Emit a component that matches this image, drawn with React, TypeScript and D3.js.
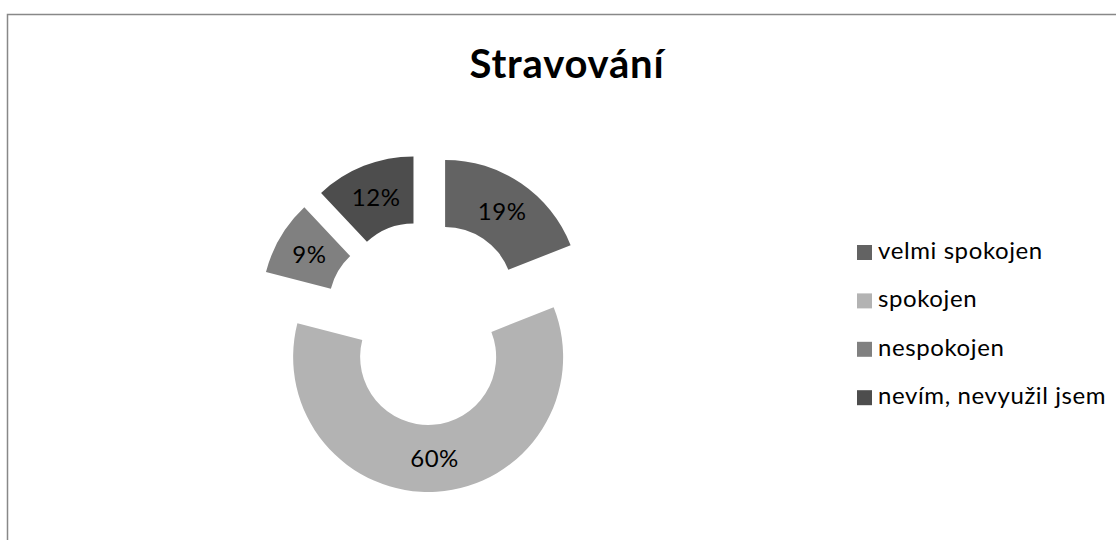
import React from 'react';
import * as d3 from 'd3';

// chart data
const title = 'Stravování';
const categories = ['velmi spokojen', 'spokojen', 'nespokojen', 'nevím, nevyužil jsem'];
const shares = [19, 60, 9, 12];
const colors = ['#636363', '#b3b3b3', '#808080', '#4d4d4d'];

const W = 1116;
const H = 540;

const App = () => {
  // doughnut layout
  const cx = 426;
  const cy = 323;
  const outerR = 135;
  const innerR = 68;
  const explode = 34;

  const pie = d3.pie<number>().sort(null).value(d => d);
  const arcs = pie(shares);
  const arc = d3.arc<d3.PieArcDatum<number>>().innerRadius(innerR).outerRadius(outerR);

  const font = 'Lato, "Open Sans", sans-serif';

  return (
    <div style={{ position: 'absolute', left: 0, top: 0 }}>
      <svg width={W} height={H} style={{ display: 'block', background: '#fff' }}>
        {/* chart frame, runs off the right and bottom of the picture */}
        <rect x={7.5} y={14.5} width={W + 20} height={H + 20} fill="#fff" stroke="#888" strokeWidth={1.5} />

        <text x={567} y={78} textAnchor="middle" fontFamily={font} fontWeight="bold" fontSize={40} letterSpacing={0.8} fill="#000">
          {title}
        </text>

        <g transform={`translate(${cx},${cy})`}>
          {arcs.map((a, i) => {
            const mid = (a.startAngle + a.endAngle) / 2;
            const dx = explode * Math.sin(mid);
            const dy = -explode * Math.cos(mid);
            const [lx, ly] = arc.centroid(a);
            return (
              <g key={categories[i]} transform={`translate(${dx},${dy})`}>
                <path d={arc(a) || ''} fill={colors[i]} />
                <text x={lx} y={ly} dy="0.36em" textAnchor="middle" fontFamily={font} fontSize={24} letterSpacing={0.5} fill="#000">
                  {shares[i]}%
                </text>
              </g>
            );
          })}
        </g>

        <g transform="translate(857,245)">
          {categories.map((c, i) => (
            <g key={c} transform={`translate(0,${i * 48.4})`}>
              <rect width={15} height={15} fill={colors[i]} />
              <text x={21} y={14} fontFamily={font} fontSize={24} letterSpacing={0.6} fill="#000">
                {c}
              </text>
            </g>
          ))}
        </g>
      </svg>
    </div>
  );
};

export default App;
